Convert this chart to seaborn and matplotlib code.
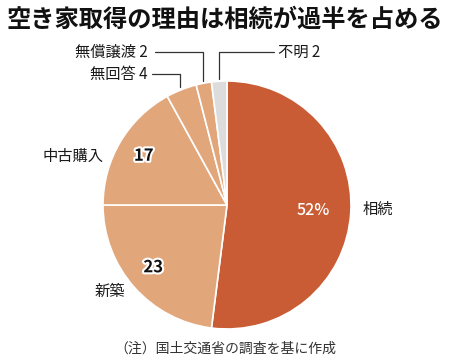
import numpy as np
import matplotlib.pyplot as plt
import matplotlib.patheffects as pe
import seaborn as sns

# data
labels = ["相続", "新築", "中古購入", "無回答", "無償譲渡", "不明"]
values = [52, 23, 17, 4, 2, 2]
colors = ["#C95C35", "#E2A67B", "#E2A67B", "#E2A67B", "#E2A67B", "#DCDCDC"]

title = "空き家取得の理由は相続が過半を占める"
note = "（注）国土交通省の調査を基に作成"

sns.set_theme(style="white")
plt.rcParams["font.family"] = ["Noto Sans CJK JP", "DejaVu Sans"]

fig = plt.figure(figsize=(4.5, 3.6), dpi=100)
ax = fig.add_axes([0, 0, 1, 1])

wedges, _ = ax.pie(values, colors=colors, startangle=90, counterclock=False,
                   radius=1.0, wedgeprops=dict(edgecolor="white", linewidth=1.2))

# map pixel space of the 450x360 canvas: centre (227,205), radius 124 px
ax.set_xlim(-227 / 124, (450 - 227) / 124)
ax.set_ylim((205 - 360) / 124, 205 / 124)
ax.set_aspect("auto")
ax.axis("off")

def px(x, y):
    return (x - 227) / 124, (205 - y) / 124

# mid angle of each slice
mids = [(w.theta1 + w.theta2) / 2 for w in wedges]

def polar(i, r):
    a = np.deg2rad(mids[i])
    return r * np.cos(a), r * np.sin(a)

halo = [pe.withStroke(linewidth=3, foreground="white")]

# inside labels
x, y = polar(0, 0.70)
ax.text(x, y, f"{values[0]}%", color="white", fontsize=11.5, fontweight="medium",
        ha="center", va="center")
x, y = polar(1, 0.82)
ax.text(x + 0.02, y + 0.04, str(values[1]), color="#111", fontsize=12, fontweight="bold",
        ha="center", va="center", path_effects=halo)
x, y = polar(2, 0.78)
ax.text(x, y, str(values[2]), color="#111", fontsize=12, fontweight="bold",
        ha="center", va="center", path_effects=halo)

# outside labels
ax.text(*px(378, 209), labels[0], fontsize=11, ha="center", va="center", color="#1a1a1a")
ax.text(*px(110, 291), labels[1], fontsize=11, ha="center", va="center", color="#1a1a1a")
ax.text(*px(73, 156), labels[2], fontsize=11, ha="center", va="center", color="#1a1a1a")

# leader-line labels for the small slices
lead = [(3, 74, 148, 152, "right"), (4, 52, 148, 155, "right"), (5, 52, 278, 274, "left")]
for i, ly, tx, lx, ha in lead:
    ex, ey = polar(i, 1.02)
    _, yl = px(0, ly)
    xl, _ = px(lx, 0)
    ax.plot([xl, ex, ex], [yl, yl, ey], color="#333", lw=0.9)
    ax.text(px(tx, 0)[0], yl, f"{labels[i]} {values[i]}", fontsize=11,
            ha=ha, va="center", color="#1a1a1a")

fig.text(0.5, 1 - 20 / 360, title, fontsize=17.5, fontweight="bold",
         ha="center", va="center", color="#111")
fig.text(0.5, 1 - 349 / 360, note, fontsize=10, ha="center", va="center", color="#333")

fig.savefig("out.png", dpi=100, facecolor="white")
